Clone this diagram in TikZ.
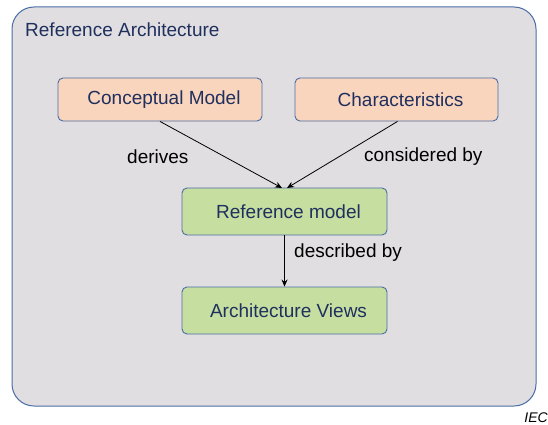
\documentclass[tikz,border=0pt]{standalone}
\usepackage{fontspec}
\setmainfont{Liberation Sans}
\usetikzlibrary{arrows.meta}
\definecolor{bordblue}{HTML}{4A6DA7}
\definecolor{navy}{HTML}{1F2F5E}
\definecolor{bggray}{HTML}{E0DEE0}
\definecolor{peach}{HTML}{FAD5BD}
\definecolor{lgreen}{HTML}{C6DFA0}
\tikzset{
  box/.style={draw=bordblue, line width=0.9pt, rounded corners=5pt, text=navy, font=\fontsize{19}{22}\selectfont},
  lbl/.style={text=black, font=\fontsize{19}{22}\selectfont, inner sep=0pt},
  conn/.style={black, line width=0.8pt, -{Stealth[length=7pt,width=6pt]}}
}
\begin{document}
\begin{tikzpicture}[x=1pt,y=-1pt]
\useasboundingbox (0,0) rectangle (548,425);
\draw[draw=bordblue, line width=1pt, fill=bggray, rounded corners=22pt] (12,7) rectangle (536,406);
\node[anchor=west, text=navy, font=\fontsize{19}{22}\selectfont, inner sep=0pt] (title) at (25,30) {Reference Architecture};
\node[box, fill=peach, minimum width=204pt, minimum height=43pt] (cm) at (160,99.5) {\hspace*{8pt}Conceptual Model};
\node[box, fill=peach, minimum width=203pt, minimum height=43pt] (ch) at (396.5,99.5) {\hspace*{8pt}Characteristics};
\node[box, fill=lgreen, minimum width=205pt, minimum height=47pt] (rm) at (284.5,211.5) {\hspace*{8pt}Reference model};
\node[box, fill=lgreen, minimum width=205pt, minimum height=47pt] (av) at (284.5,310.5) {\hspace*{8pt}Architecture Views};
\coordinate (t1) at (282,188);
\coordinate (t2) at (287,188);
\draw[conn] (cm.south) -- (t1);
\draw[conn] ([xshift=1pt]ch.south) -- (t2);
\draw[conn] (rm.south) -- (av.north);
\node[lbl, anchor=west] (l1) at (127,157) {derives};
\node[lbl, anchor=west] (l2) at (364,157) {considered by};
\node[lbl, anchor=west] (l3) at (294,253) {described by};
\node[anchor=east, inner sep=0pt, font=\fontsize{14}{16}\selectfont\itshape] (iec) at (548,418) {IEC};
\end{tikzpicture}
\end{document}
